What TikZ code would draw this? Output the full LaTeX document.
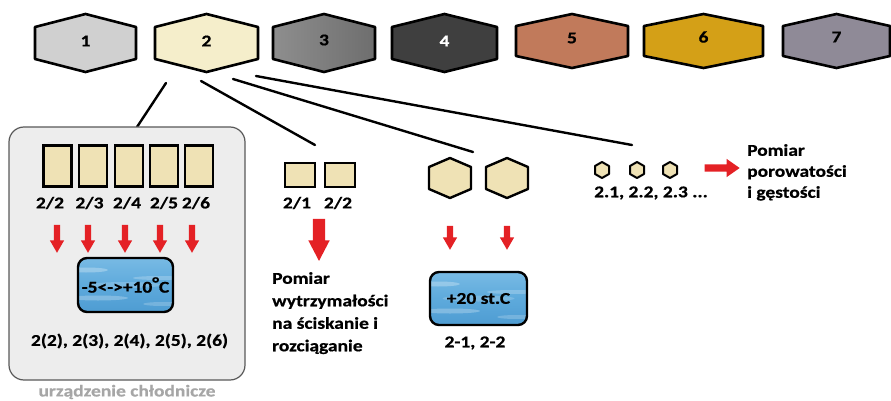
\documentclass[tikz,border=0pt]{standalone}
\usepackage{fontspec}
\setmainfont{Carlito}[FakeStretch=1.18, BoldFeatures={FakeBold=0.6}]
\usetikzlibrary{shapes.geometric,shapes.arrows}
\definecolor{hA}{HTML}{D0D0D0}
\definecolor{hB}{HTML}{F5EECB}
\definecolor{hCl}{HTML}{8E8E8E}
\definecolor{hCr}{HTML}{6E6E6E}
\definecolor{hD}{HTML}{3F3F3F}
\definecolor{hE}{HTML}{C17A5B}
\definecolor{hF}{HTML}{D4A017}
\definecolor{hG}{HTML}{8F8A97}
\definecolor{cream}{HTML}{EFE2B5}
\definecolor{arrowred}{HTML}{E42125}
\definecolor{boxgray}{HTML}{EDEDED}
\definecolor{labelgray}{HTML}{A6A6A6}
\definecolor{waterT}{HTML}{78BAE4}
\definecolor{waterM}{HTML}{5EAADC}
\definecolor{waterB}{HTML}{4E9CD2}
\newcommand\hexdraw[6]{% options, cx, cy, halfwidth, halfheight, halfside
  \draw[#1] (#2,#3-#5) -- (#2+#4,#3-#6) -- (#2+#4,#3+#6) -- (#2,#3+#5)
    -- (#2-#4,#3+#6) -- (#2-#4,#3-#6) -- cycle;}
\begin{document}
\begin{tikzpicture}[x=1pt,y=-1pt,
  hexline/.style={draw=black, line width=2.6pt, line join=round},
  lbl/.style={font=\fontsize{16.5}{20}\selectfont\bfseries, inner sep=0pt},
  conn/.style={line width=2.4pt, line cap=round},
  cellbox/.style={draw=black, line width=2.4pt, fill=cream, inner sep=0pt},
  redarr/.style={single arrow, fill=arrowred, draw=none, shape border rotate=270,
    single arrow tip angle=60, single arrow head extend=4pt, inner sep=3pt,
    minimum height=28pt},
  bluebox/.style={draw=black, line width=2.4pt, rounded corners=9pt,
    top color=waterT, bottom color=waterB, middle color=waterM,
    path picture={
      \fill[white, opacity=0.28] ([xshift=8pt,yshift=-12pt]path picture bounding box.north west) ellipse (22pt and 2.5pt);
      \fill[white, opacity=0.22] ([xshift=-14pt,yshift=-20pt]path picture bounding box.north east) ellipse (26pt and 2pt);
      \fill[white, opacity=0.25] ([xshift=20pt,yshift=14pt]path picture bounding box.south west) ellipse (30pt and 2.5pt);
      \fill[white, opacity=0.2] ([xshift=-10pt,yshift=8pt]path picture bounding box.south east) ellipse (20pt and 2pt);
      \fill[white, opacity=0.18] (path picture bounding box.center) ellipse (36pt and 3pt);
    },
    font=\fontsize{16.5}{20}\selectfont\bfseries, inner sep=0pt},
  txt/.style={font=\fontsize{16.5}{22.5}\selectfont\bfseries, align=left, inner sep=0pt}
]
\useasboundingbox (0,0) rectangle (891,401);

% top hexagons
\hexdraw{hexline, fill=hA}{85.5}{43}{50.5}{29}{16}
\node[lbl] (h1) at (85.5,41) {1};
\hexdraw{hexline, fill=hB}{206.5}{43}{51.5}{29}{16}
\node[lbl] (h2) at (206.5,41) {2};
\hexdraw{hexline, left color=hCl, right color=hCr}{324}{43}{51}{29}{16}
\node[lbl] (h3) at (324,40) {3};
\hexdraw{hexline, fill=hD}{444.5}{43}{52.5}{29}{16}
\node[lbl, text=white] (h4) at (444.5,41) {4};
\hexdraw{hexline, fill=hE}{572}{41}{56}{27}{15}
\node[lbl] (h5) at (572,38) {5};
\hexdraw{hexline, fill=hF}{703.5}{41}{59.5}{27}{15}
\node[lbl] (h6) at (703.5,37) {6};
\hexdraw{hexline, fill=hG}{836.5}{41}{53.5}{27}{15}
\node[lbl] (h7) at (836.5,37) {7};

% connectors from hexagon 2
\coordinate (s1) at (166,83);
\coordinate (s2) at (201,81);
\coordinate (s3) at (233,79);
\coordinate (s4) at (256,76);
\coordinate (e1) at (137,127);
\coordinate (e2) at (315,145);
\coordinate (e3) at (473,152);
\coordinate (e4) at (632,145);
\draw[conn] (s1) -- (e1);
\draw[conn] (s2) -- (e2);
\draw[conn] (s3) -- (e3);
\draw[conn] (s4) -- (e4);

% cooling device box
\draw[draw=black!65, line width=1.2pt, fill=boxgray, rounded corners=15pt] (9,127) rectangle (245,380);
\node[font=\fontsize{16.5}{20}\selectfont\bfseries, text=labelgray, inner sep=0pt] (cool) at (127,392) {urządzenie chłodnicze};

\node[cellbox, minimum width=28pt, minimum height=41pt] (r2) at (57.5,166) {};
\node[cellbox, minimum width=28pt, minimum height=41pt] (r3) at (93,166) {};
\node[cellbox, minimum width=28pt, minimum height=41pt] (r4) at (129,166) {};
\node[cellbox, minimum width=28pt, minimum height=41pt] (r5) at (164,166) {};
\node[cellbox, minimum width=28pt, minimum height=41pt] (r6) at (199,166) {};
\node[lbl] (t2) at (50,203) {2/2};
\node[lbl] (t3) at (89.5,203) {2/3};
\node[lbl] (t4) at (127,203) {2/4};
\node[lbl] (t5) at (164,203) {2/5};
\node[lbl] (t6) at (196,203) {2/6};
\node[redarr] (a2) at (57,236) {};
\node[redarr] (a3) at (88,236) {};
\node[redarr] (a4) at (125,236) {};
\node[redarr] (a5) at (160,236) {};
\node[redarr] (a6) at (192,236) {};
\node[bluebox, minimum width=95pt, minimum height=54pt] (cold) at (125.5,285) {-5<->+10\raisebox{4pt}{°}C};
\node[lbl] (coldlbl) at (129.5,341) {2(2), 2(3), 2(4), 2(5), 2(6)};

% strength samples
\node[cellbox, minimum width=30pt, minimum height=24pt] (q1) at (300,175) {};
\node[cellbox, minimum width=30pt, minimum height=24pt] (q2) at (340,175) {};
\node[lbl] (tq1) at (297,203) {2/1};
\node[lbl] (tq2) at (338,203) {2/2};
\node[single arrow, fill=arrowred, draw=none, shape border rotate=270,
  single arrow tip angle=55, single arrow head extend=4.5pt, inner sep=6pt,
  minimum height=42pt] (abig) at (319,234) {};
\node[txt, anchor=north west] (strength) at (272,272)
  {Pomiar\\wytrzymałości\\na ściskanie i\\rozciąganie};

% hexagonal samples
\hexdraw{draw=black, line width=2.4pt, line join=round, fill=cream}{450}{178}{21}{20}{11}
\coordinate (x1) at (450,178);
\hexdraw{draw=black, line width=2.4pt, line join=round, fill=cream}{507}{178}{21}{20}{11}
\coordinate (x2) at (507,178);
\node[redarr, minimum height=24pt] (ax1) at (450,235) {};
\node[redarr, minimum height=24pt] (ax2) at (507,235) {};
\node[bluebox, minimum width=97pt, minimum height=53pt] (warm) at (478.5,298.5) {+20 st.C};
\node[lbl] (warmlbl) at (475,343) {2-1, 2-2};

% small hexagons
\hexdraw{draw=black, line width=2pt, line join=round, fill=cream}{602}{170}{7}{8}{4}
\hexdraw{draw=black, line width=2pt, line join=round, fill=cream}{637}{170}{7}{8}{4}
\hexdraw{draw=black, line width=2pt, line join=round, fill=cream}{670}{170}{7}{8}{4}
\node[lbl] (smalllbl) at (651,193) {2.1, 2.2, 2.3 ...};
\node[single arrow, fill=arrowred, draw=none,
  single arrow tip angle=70, single arrow head extend=5.5pt, inner sep=3.5pt,
  minimum height=35pt] (aright) at (719.5,168) {};
\node[txt, font=\fontsize{16.5}{21}\selectfont\bfseries, anchor=north west] (poro) at (747,144)
  {Pomiar\\porowatości\\i gęstości};
\end{tikzpicture}
\end{document}
